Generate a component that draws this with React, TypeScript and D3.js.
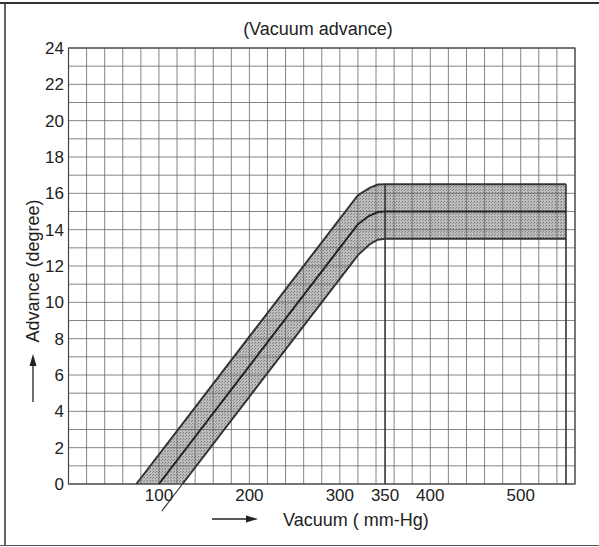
import React from "react";
import * as d3 from "d3";

const xTicks = [100, 200, 300, 350, 400, 500];
const yTicks = [0, 2, 4, 6, 8, 10, 12, 14, 16, 18, 20, 22, 24];

// [vacuum mm-Hg, advance degree]
const upperLimit: [number, number][] = [[75, 0], [320, 15.9], [333, 16.3], [342, 16.48], [350, 16.5], [550, 16.5]];
const standard: [number, number][] = [[100, 0], [320, 14.3], [332, 14.75], [342, 14.97], [350, 15], [550, 15]];
const lowerLimit: [number, number][] = [[126, 0], [320, 12.6], [333, 13.2], [342, 13.45], [350, 13.5], [550, 13.5]];
const lowerExtension: [number, number][] = [[103, -1.5], [126, 0]];
const markerLines = [350, 550];

const W = 599, H = 547;

export default function App() {
  const x = d3.scaleLinear().domain([0, 560]).range([68.5, 575]);
  const y = d3.scaleLinear().domain([0, 24]).range([484, 48]);
  const line = d3.line<[number, number]>().x(d => x(d[0])).y(d => y(d[1]));
  const bandPts = [...upperLimit, ...lowerLimit.slice().reverse()];
  const band = line(bandPts) + "Z";
  const vGrid = d3.range(0, 561, 20);
  const hGrid = d3.range(0, 25, 1);
  const font = "'Liberation Sans', Arial, sans-serif";
  const bandTop = d3.max(upperLimit, d => d[1]) as number;
  return (
    <svg width={W} height={H} style={{ position: "absolute", left: 0, top: 0, background: "#fff" }}>
      <defs>
        <pattern id="stip" width="3" height="3" patternUnits="userSpaceOnUse">
          <rect width="3" height="3" fill="#bdbdbd" />
          <rect x="0" y="0" width="1" height="1" fill="#7a7a7a" />
          <rect x="2" y="1" width="1" height="1" fill="#8a8a8a" />
        </pattern>
      </defs>
      {/* frame */}
      <line x1={0} x2={W} y1={3} y2={3} stroke="#333" strokeWidth={2} />
      <line x1={5} x2={5} y1={3} y2={545} stroke="#333" strokeWidth={1.5} />
      <line x1={0} x2={W} y1={545.5} y2={545.5} stroke="#555" strokeWidth={1} />

      <path d={band} fill="url(#stip)" stroke="none" />
      {/* grid */}
      {vGrid.map(v => (
        <line key={"v" + v} x1={x(v)} x2={x(v)} y1={y(0)} y2={y(24)} stroke="#666" strokeWidth={0.8} />
      ))}
      {hGrid.map(v => (
        <line key={"h" + v} x1={x(0)} x2={x(560)} y1={y(v)} y2={y(v)} stroke="#666" strokeWidth={0.8} />
      ))}
      <rect x={x(0)} y={y(24)} width={x(560) - x(0)} height={y(0) - y(24)} fill="none" stroke="#444" strokeWidth={1.2} />
      {markerLines.map(v => (
        <line key={"m" + v} x1={x(v)} x2={x(v)} y1={y(0)} y2={y(bandTop)} stroke="#333" strokeWidth={1.6} />
      ))}
      <path d={line(upperLimit) as string} fill="none" stroke="#333" strokeWidth={2} />
      <path d={line(standard) as string} fill="none" stroke="#222" strokeWidth={2} />
      <path d={line(lowerLimit) as string} fill="none" stroke="#333" strokeWidth={2} />
      <path d={line(lowerExtension) as string} fill="none" stroke="#333" strokeWidth={1.2} />

      {/* y ticks */}
      {yTicks.map(t => (
        <text key={"yt" + t} x={64} y={y(t)} dy="0.36em" textAnchor="end" fontFamily={font} fontSize={17} fill="#222">{t}</text>
      ))}
      {xTicks.map(t => (
        <text key={"xt" + t} x={x(t)} y={501} textAnchor="middle" fontFamily={font} fontSize={17} fill="#222">{t}</text>
      ))}
      <text x={318} y={35} textAnchor="middle" fontFamily={font} fontSize={18} fill="#222">(Vacuum advance)</text>
      <text x={283} y={526} textAnchor="start" fontFamily={font} fontSize={18} fill="#222">Vacuum ( mm-Hg)</text>
      <line x1={212} x2={250} y1={519} y2={519} stroke="#222" strokeWidth={1.3} />
      <path d="M258,519 L246,515.5 L246,522.5 Z" fill="#222" />
      <text transform="translate(39,271) rotate(-90)" textAnchor="middle" fontFamily={font} fontSize={18} fill="#222">Advance (degree)</text>
      <line x1={33} x2={33} y1={402} y2={362} stroke="#222" strokeWidth={1.3} />
      <path d="M33,354 L29.5,366 L36.5,366 Z" fill="#222" />
    </svg>
  );
}
